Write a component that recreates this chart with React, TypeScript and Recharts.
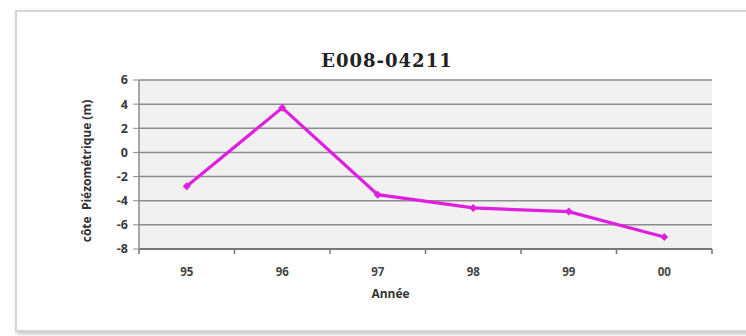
import React from 'react';
import { ComposedChart, Line, XAxis, YAxis, CartesianGrid } from 'recharts';

const years = ['95', '96', '97', '98', '99', '00'];
const levels = [-2.8, 3.7, -3.5, -4.6, -4.9, -7.0];
const yTicks = [-8, -6, -4, -2, 0, 2, 4, 6];

const data = years.map((year, i) => ({ year, level: levels[i] }));

const labelFont = '"Open Sans", "DejaVu Sans", sans-serif';

// diamond marker
const Diamond = (props: any) => {
  const { cx, cy } = props;
  if (cx == null || cy == null) return null;
  const r = 4;
  return (
    <path
      d={`M${cx},${cy - r} L${cx + r},${cy} L${cx},${cy + r} L${cx - r},${cy} Z`}
      fill="#e01ee0"
      stroke="none"
    />
  );
};

// year label at the band centre, tick marks on the band edges
const YearTick = (props: any) => {
  const { x, y, payload, index, width } = props;
  const bw = (width || 573) / years.length;
  return (
    <g>
      <line x1={x - bw / 2} y1={y} x2={x - bw / 2} y2={y + 5} stroke="#777" strokeWidth={1.5} />
      {index === years.length - 1 && (
        <line x1={x + bw / 2} y1={y} x2={x + bw / 2} y2={y + 5} stroke="#777" strokeWidth={1.5} />
      )}
      <text
        x={x}
        y={y + 27}
        textAnchor="middle"
        fontFamily={labelFont}
        fontWeight={700}
        fontSize={11.5}
        fill="#444"
      >
        {payload.value}
      </text>
    </g>
  );
};

export default function App() {
  return (
    <div
      style={{
        position: 'absolute',
        left: 0,
        top: 0,
        width: 746,
        height: 336,
        background: '#fff',
        overflow: 'hidden',
      }}
    >
      {/* outer frame */}
      <div
        style={{
          position: 'absolute',
          left: 15,
          top: 10,
          width: 760,
          height: 318,
          border: '2px solid #d4d4d4',
          boxShadow: '2px 2px 4px rgba(0,0,0,0.25)',
          background: '#fff',
        }}
      />
      <div
        style={{
          position: 'absolute',
          left: 0,
          top: 50,
          width: 774,
          textAlign: 'center',
          fontFamily: '"DejaVu Serif", serif',
          fontWeight: 700,
          fontSize: 18,
          letterSpacing: 1,
          color: '#222',
        }}
      >
        E008-04211
      </div>
      <svg
        width={40}
        height={200}
        style={{ position: 'absolute', left: 66, top: 72 }}
      >
        <text
          x={20}
          y={99}
          transform="rotate(-90 20 99)"
          textAnchor="middle"
          dominantBaseline="central"
          fontFamily={labelFont}
          fontWeight={700}
          fontSize={12}
          fill="#333"
          style={{ whiteSpace: 'pre' }}
        >
          {'côte  Piézométrique (m)'}
        </text>
      </svg>
      <div style={{ position: 'absolute', left: 0, top: 0 }}>
        <ComposedChart
          width={746}
          height={336}
          data={data}
          margin={{ top: 80, right: 34, bottom: 57, left: 79 }}
        >
          <CartesianGrid vertical={false} fill="#f1f1f1" stroke="#8c8c8c" strokeWidth={1.5} />
          <XAxis
            dataKey="year"
            scale="band"
            height={30}
            tickLine={false}
            tickSize={0}
            tickMargin={0}
            axisLine={{ stroke: '#777', strokeWidth: 2 }}
            tick={<YearTick />}
            interval={0}
            label={{
              content: (p: any) => (
                <text
                  x={p.viewBox.x + p.viewBox.width / 2 - 35}
                  y={298}
                  textAnchor="middle"
                  fontFamily={labelFont}
                  fontWeight={700}
                  fontSize={12}
                  fill="#333"
                >
                  Année
                </text>
              ),
            }}
          />
          <YAxis
            width={60}
            domain={[-8, 6]}
            ticks={yTicks}
            interval={0}
            tickSize={6}
            tickMargin={5}
            tickLine={{ stroke: '#8c8c8c' }}
            axisLine={{ stroke: '#8c8c8c', strokeWidth: 1.5 }}
            tick={{ fontFamily: labelFont, fontWeight: 700, fontSize: 12.5, fill: '#3a3a3a' }}
          />
          <YAxis
            yAxisId="r"
            orientation="right"
            width={0}
            tick={false}
            tickLine={false}
            axisLine={{ stroke: '#888', strokeWidth: 2.5 }}
          />
          <Line
            dataKey="level"
            stroke="#e01ee0"
            strokeWidth={3.2}
            dot={<Diamond />}
            activeDot={false}
            isAnimationActive={false}
          />
        </ComposedChart>
      </div>
    </div>
  );
}
